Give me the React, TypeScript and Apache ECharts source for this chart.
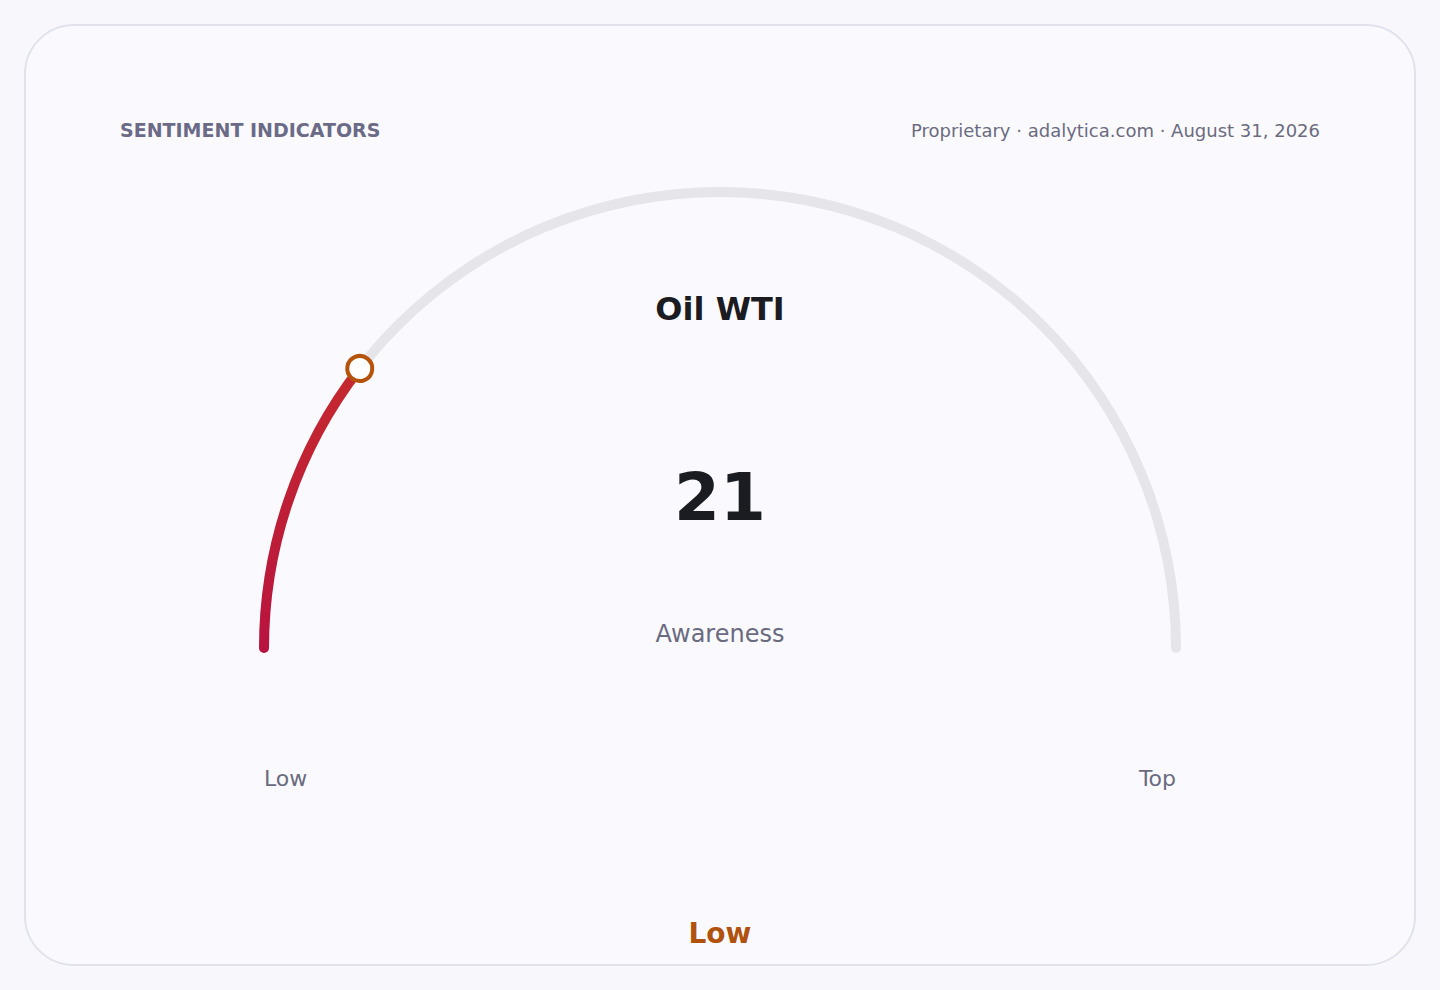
import React, { useEffect, useRef } from 'react';
import * as echarts from 'echarts';

// chart data
const indicatorNames = ['Oil WTI'];
const indicatorValues = [21];
const scaleLabels = ['Low', 'Top'];
const ratingLabels = ['Low'];
const metricLabels = ['Awareness'];
const headerLabels = ['SENTIMENT INDICATORS', 'Proprietary · adalytica.com · August 31, 2026'];
const scaleRange = [0, 100];

const FONT = '"DejaVu Sans", sans-serif';

const App: React.FC = () => {
  const chartRef = useRef<HTMLDivElement>(null);

  useEffect(() => {
    if (!chartRef.current) return;
    const chart = echarts.init(chartRef.current, undefined, { renderer: 'svg' });

    const cx = 720;
    const cy = 648;
    const lineW = 10;
    const r = 461;
    const dot = 25;

    const gaugeData = indicatorNames.map((name, i) => ({ name, value: indicatorValues[i] }));

    const base = {
      type: 'gauge',
      center: [cx, cy],
      radius: r,
      startAngle: 180,
      endAngle: 0,
      min: scaleRange[0],
      max: scaleRange[1],
      anchor: { show: false },
      axisTick: { show: false },
      splitLine: { show: false },
      axisLabel: { show: false }
    };

    const option = {
      animation: false,
      backgroundColor: 'transparent',
      series: [
        {
          ...base,
          z: 2,
          axisLine: {
            roundCap: true,
            lineStyle: { width: lineW, color: [[1, '#e5e5ea']] }
          },
          progress: {
            show: true,
            roundCap: true,
            width: lineW,
            itemStyle: {
              color: new echarts.graphic.LinearGradient(0, 1, 0, 0, [
                { offset: 0, color: '#b8133f' },
                { offset: 1, color: '#c52a2e' }
              ])
            }
          },
          pointer: { show: false },
          title: {
            show: true,
            offsetCenter: [0, 309 - cy],
            fontFamily: FONT,
            fontSize: 32,
            fontWeight: 'bold',
            color: '#1b1b22'
          },
          detail: {
            show: true,
            offsetCenter: [0, 497 - cy],
            formatter: '{value}',
            fontFamily: FONT,
            fontSize: 66,
            fontWeight: 'bold',
            color: '#1b1b22'
          },
          data: gaugeData
        },
        {
          // marker dot drawn above the progress arc
          ...base,
          z: 5,
          axisLine: { show: false },
          progress: { show: false },
          pointer: {
            show: true,
            icon: 'circle',
            width: dot,
            length: dot,
            offsetCenter: [0, -(r - lineW / 2 - dot / 2)],
            keepAspect: true,
            itemStyle: { color: '#ffffff', borderColor: '#b5520b', borderWidth: 4 }
          },
          title: { show: false },
          detail: { show: false },
          data: gaugeData
        }
      ],
      graphic: [
        {
          type: 'text',
          x: 120,
          y: 130,
          style: {
            text: headerLabels[0],
            fontFamily: FONT,
            fontSize: 19,
            fontWeight: 'bold',
            fill: '#6b6b88',
            verticalAlign: 'middle'
          }
        },
        {
          type: 'text',
          x: 1320,
          y: 130,
          style: {
            text: headerLabels[1],
            fontFamily: FONT,
            fontSize: 18,
            fill: '#6b6b80',
            align: 'right',
            verticalAlign: 'middle'
          }
        },
        {
          type: 'text',
          x: cx,
          y: 634,
          style: {
            text: metricLabels[0],
            fontFamily: FONT,
            fontSize: 24,
            fill: '#6b6b80',
            align: 'center',
            verticalAlign: 'middle'
          }
        },
        {
          type: 'text',
          x: 264,
          y: 778,
          style: {
            text: scaleLabels[0],
            fontFamily: FONT,
            fontSize: 22,
            fill: '#6b6b80',
            align: 'left',
            verticalAlign: 'middle'
          }
        },
        {
          type: 'text',
          x: 1176,
          y: 778,
          style: {
            text: scaleLabels[1],
            fontFamily: FONT,
            fontSize: 22,
            fill: '#6b6b80',
            align: 'right',
            verticalAlign: 'middle'
          }
        },
        {
          type: 'text',
          x: cx,
          y: 933,
          style: {
            text: ratingLabels[0],
            fontFamily: FONT,
            fontSize: 28,
            fontWeight: 'bold',
            fill: '#b0520e',
            align: 'center',
            verticalAlign: 'middle'
          }
        }
      ]
    };

    chart.setOption(option as any);

    return () => {
      chart.dispose();
    };
  }, []);

  return (
    <div
      style={{
        position: 'fixed',
        left: 0,
        top: 0,
        width: 1440,
        height: 990,
        background: '#f8f8fc',
        overflow: 'hidden'
      }}
    >
      <div
        style={{
          position: 'absolute',
          left: 24,
          top: 24,
          width: 1392,
          height: 942,
          boxSizing: 'border-box',
          border: '2px solid #e2e2ec',
          borderRadius: 50,
          background: '#fafafe'
        }}
      />
      <div
        ref={chartRef}
        style={{ position: 'absolute', left: 0, top: 0, width: 1440, height: 990 }}
      />
    </div>
  );
};

export default App;
